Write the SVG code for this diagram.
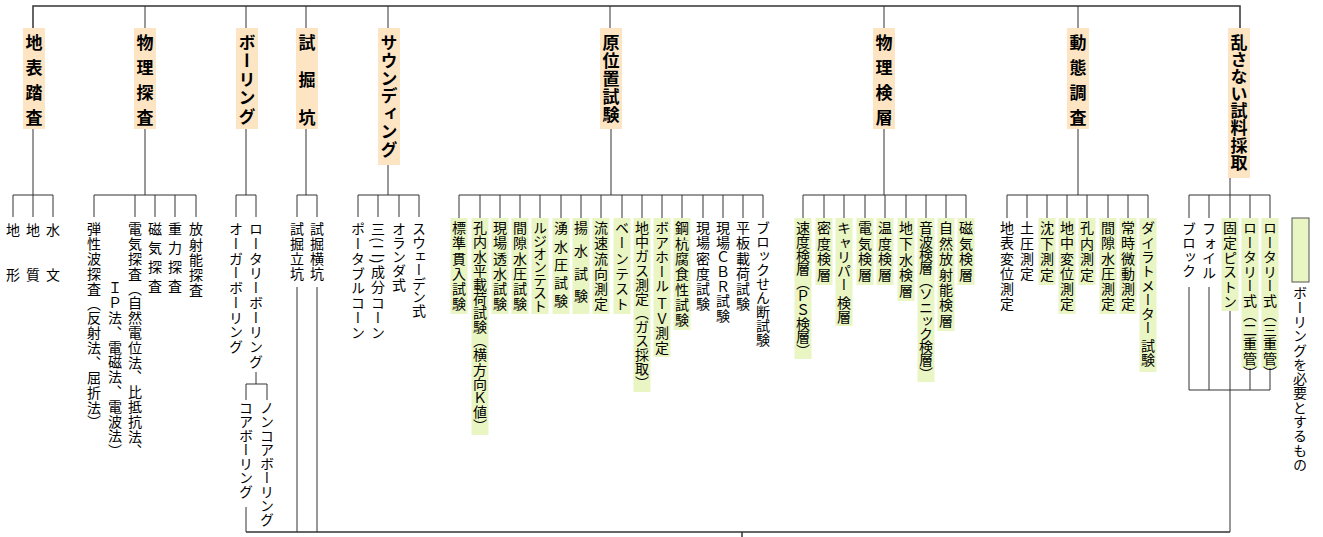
<svg xmlns="http://www.w3.org/2000/svg" width="1323" height="537" viewBox="0 0 1323 537">
<style>
.c{font-family:"Noto Sans CJK JP","Noto Sans CJK SC",sans-serif;font-size:17px;font-weight:bold;writing-mode:vertical-rl;fill:#000}
.t{font-family:"Noto Sans CJK JP","Noto Sans CJK SC",sans-serif;font-size:14px;writing-mode:vertical-rl;fill:#000}
.pk{fill:#FDE5C4}
.gr{fill:#E9F5C2}
.ln{stroke:#333;stroke-width:1;fill:none}
.lb{stroke:#333;stroke-width:1.5;fill:none}
</style>
<rect width="1323" height="537" fill="#fff"/>
<g id="connectors">
<path class="lb" d="M33,28V6H1240V28"/>
<path class="ln" d="M145,6V28M246,6V28M306,6V28M388,6V28M610,6V28M884,6V28M1078,6V28"/>
<path class="ln" d="M33,129V195M13,217V195H53V217M33,195V217"/>
<path class="ln" d="M145,129V195M94,217V195H196V217M135,195V217M155,195V217M175,195V217"/>
<path class="ln" d="M246,129V195M236,217V195H256V217M256,372V384M246,400V384H267V400M246,507V532"/>
<path class="ln" d="M306,129V195M297,217V195H317V217M297,287V532M317,287V532"/>
<path class="ln" d="M388,165V195M358,217V195H419V217M378,195V217M399,195V217"/>
<path class="ln" d="M611,129V195M459,218V195H763V218M480,195V218M500,195V218M520,195V218M540,195V218M561,195V218M581,195V218M601,195V218M622,195V218M642,195V218M662,195V218M682,195V218M703,195V218M723,195V218M743,195V218"/>
<path class="ln" d="M884,129V195M803,218V195H966V218M824,195V218M844,195V218M865,195V218M885,195V218M906,195V218M926,195V218M946,195V218"/>
<path class="ln" d="M1078,129V195M1007,218V195H1148V218M1027,195V218M1047,195V218M1067,195V218M1087,195V218M1108,195V218M1128,195V218"/>
<path class="ln" d="M1230,178V218M1189,218V195H1270V218M1209,195V218M1250,195V218M1189,287V390M1209,287V390M1250,368V390M1270,368V390M1189,390H1270M1230,311V532"/>
<path class="lb" d="M246,532H1230M742,532V537"/>
</g>
<g id="cat-chihyo"><rect class="pk" x="23" y="28" width="22" height="101"/><text class="c" x="34" y="34" letter-spacing="8">地表踏査</text></g>
<g id="cat-butsuri"><rect class="pk" x="134" y="28" width="22" height="101"/><text class="c" x="145" y="34" letter-spacing="8">物理探査</text></g>
<g id="cat-boring"><rect class="pk" x="236" y="28" width="22" height="101"/><text class="c" x="247" y="34" letter-spacing="1.4">ボーリング</text></g>
<g id="cat-shikutsu"><rect class="pk" x="296" y="28" width="22" height="101"/><text class="c" x="307" y="34" letter-spacing="20.5">試掘坑</text></g>
<g id="cat-sounding"><rect class="pk" x="378" y="28" width="22" height="137"/><text class="c" x="389" y="34" letter-spacing="0.8">サウンディング</text></g>
<g id="cat-genichi"><rect class="pk" x="600" y="28" width="22" height="101"/><text class="c" x="611" y="34" letter-spacing="1">原位置試験</text></g>
<g id="cat-kenso"><rect class="pk" x="873" y="28" width="22" height="101"/><text class="c" x="884" y="34" letter-spacing="8">物理検層</text></g>
<g id="cat-dotai"><rect class="pk" x="1067" y="28" width="22" height="101"/><text class="c" x="1078" y="34" letter-spacing="8">動態調査</text></g>
<g id="cat-sampling"><rect class="pk" x="1228" y="28" width="22" height="150"/><text class="c" x="1239" y="34" letter-spacing="0.1">乱さない試料採取</text></g>
<g id="n-chikei"><text class="t" x="13" y="223" letter-spacing="31">地形</text></g>
<g id="n-chishitsu"><text class="t" x="33" y="223" letter-spacing="31">地質</text></g>
<g id="n-suimon"><text class="t" x="53" y="223" letter-spacing="31">水文</text></g>
<g id="n-danseiha"><text class="t" x="94" y="222" letter-spacing="0.85">弾性波探査（反射法、屈折法）</text></g>
<g id="n-denki"><text class="t" x="135" y="222" letter-spacing="0.8">電気探査（自然電位法、比抵抗法、</text><text class="t" x="115" y="281" letter-spacing="0.8">ＩＰ法、電磁法、電波法）</text></g>
<g id="n-jiki"><text class="t" x="155" y="222" letter-spacing="5">磁気探査</text></g>
<g id="n-juryoku"><text class="t" x="175" y="222" letter-spacing="5">重力探査</text></g>
<g id="n-hoshano"><text class="t" x="196" y="222" letter-spacing="1.2">放射能探査</text></g>
<g id="n-auger"><text class="t" x="236" y="222" letter-spacing="0.7">オーガーボーリング</text></g>
<g id="n-rotary"><text class="t" x="256" y="222" letter-spacing="0.7">ロータリーボーリング</text></g>
<g id="n-core"><text class="t" x="246" y="401" letter-spacing="0">コアボーリング</text></g>
<g id="n-noncore"><text class="t" x="267" y="401" letter-spacing="0">ノンコアボーリング</text></g>
<g id="n-tatekou"><text class="t" x="297" y="222" letter-spacing="1">試掘立坑</text></g>
<g id="n-yokokou"><text class="t" x="317" y="222" letter-spacing="1">試掘横坑</text></g>
<g id="n-portable"><text class="t" x="358" y="222" letter-spacing="0.75">ポータブルコーン</text></g>
<g id="n-sanseibun"><text class="t" x="378" y="222" letter-spacing="1.3">三(二)成分コーン</text></g>
<g id="n-oranda"><text class="t" x="399" y="222" letter-spacing="0">オランダ式</text></g>
<g id="n-sweden"><text class="t" x="419" y="222" letter-spacing="-0.4">スウェーデン式</text></g>
<g id="n-spt"><rect class="gr" x="450.5" y="218" width="17" height="96"/><text class="t" x="459" y="221" letter-spacing="1.17">標準貫入試験</text></g>
<g id="n-lateral"><rect class="gr" x="471.5" y="218" width="17" height="217"/><text class="t" x="480" y="221" letter-spacing="0.13">孔内水平載荷試験（横方向Ｋ値）</text></g>
<g id="n-perm"><rect class="gr" x="491.5" y="218" width="17" height="96"/><text class="t" x="500" y="221" letter-spacing="1.17">現場透水試験</text></g>
<g id="n-pore"><rect class="gr" x="511.5" y="218" width="17" height="96"/><text class="t" x="520" y="221" letter-spacing="1.17">間隙水圧試験</text></g>
<g id="n-lugeon"><rect class="gr" x="531.5" y="218" width="17" height="96"/><text class="t" x="540" y="221" letter-spacing="-1">ルジオンテスト</text></g>
<g id="n-yusui"><rect class="gr" x="552.5" y="218" width="17" height="96"/><text class="t" x="561" y="221" letter-spacing="4.2">湧水圧試験</text></g>
<g id="n-yosui"><rect class="gr" x="572.5" y="218" width="17" height="96"/><text class="t" x="581" y="221" letter-spacing="8.7">揚水試験</text></g>
<g id="n-ryusoku"><rect class="gr" x="592.5" y="218" width="17" height="96"/><text class="t" x="601" y="221" letter-spacing="1.17">流速流向測定</text></g>
<g id="n-vane"><rect class="gr" x="613.5" y="218" width="17" height="96"/><text class="t" x="622" y="221" letter-spacing="1.17">ベーンテスト</text></g>
<g id="n-gas"><rect class="gr" x="633.5" y="218" width="17" height="174"/><text class="t" x="642" y="221" letter-spacing="0.08">地中ガス測定（ガス採取）</text></g>
<g id="n-tv"><rect class="gr" x="653.5" y="218" width="17" height="139"/><text class="t" x="662" y="221" letter-spacing="0.5">ボアホール ＴＶ測定</text></g>
<g id="n-kokui"><rect class="gr" x="673.5" y="218" width="17" height="112"/><text class="t" x="682" y="221" letter-spacing="1.3">鋼杭腐食性試験</text></g>
<g id="n-mitsudo"><text class="t" x="703" y="221" letter-spacing="1.17">現場密度試験</text></g>
<g id="n-cbr"><text class="t" x="723" y="221" letter-spacing="0.6">現場ＣＢＲ試験</text></g>
<g id="n-heiban"><text class="t" x="743" y="221" letter-spacing="1.17">平板載荷試験</text></g>
<g id="n-block"><text class="t" x="763" y="221" letter-spacing="0">ブロックせん断試験</text></g>
<g id="n-sokudo"><rect class="gr" x="794.5" y="218" width="17" height="141"/><text class="t" x="803" y="221" letter-spacing="-0.4">速度検層（ＰＳ検層）</text></g>
<g id="n-mitsudokenso"><rect class="gr" x="815.5" y="218" width="17" height="67"/><text class="t" x="824" y="221" letter-spacing="1.5">密度検層</text></g>
<g id="n-caliper"><rect class="gr" x="835.5" y="218" width="17" height="108"/><text class="t" x="844" y="221" letter-spacing="0.2">キャリパー 検層</text></g>
<g id="n-denkikenso"><rect class="gr" x="856.5" y="218" width="17" height="67"/><text class="t" x="865" y="221" letter-spacing="1.5">電気検層</text></g>
<g id="n-ondo"><rect class="gr" x="876.5" y="218" width="17" height="67"/><text class="t" x="885" y="221" letter-spacing="1.5">温度検層</text></g>
<g id="n-chikasui"><rect class="gr" x="897.5" y="218" width="17" height="83"/><text class="t" x="906" y="221" letter-spacing="1.6">地下水検層</text></g>
<g id="n-onpa"><rect class="gr" x="917.5" y="218" width="17" height="164"/><text class="t" x="926" y="221" letter-spacing="-0.8">音波検層（ソニック検層）</text></g>
<g id="n-shizen"><rect class="gr" x="937.5" y="218" width="17" height="113"/><text class="t" x="946" y="221" letter-spacing="1.4">自然放射能検層</text></g>
<g id="n-jikikenso"><rect class="gr" x="957.5" y="218" width="17" height="67"/><text class="t" x="966" y="221" letter-spacing="1.5">磁気検層</text></g>
<g id="n-chihyohen"><text class="t" x="1007" y="221" letter-spacing="1.1">地表変位測定</text></g>
<g id="n-doatsu"><text class="t" x="1027" y="221" letter-spacing="1.2">土圧測定</text></g>
<g id="n-chinka"><rect class="gr" x="1038.5" y="218" width="17" height="67"/><text class="t" x="1047" y="221" letter-spacing="1.5">沈下測定</text></g>
<g id="n-chichu"><rect class="gr" x="1058.5" y="218" width="17" height="96"/><text class="t" x="1067" y="221" letter-spacing="1.17">地中変位測定</text></g>
<g id="n-konai"><rect class="gr" x="1078.5" y="218" width="17" height="67"/><text class="t" x="1087" y="221" letter-spacing="1.5">孔内測定</text></g>
<g id="n-kangeki"><rect class="gr" x="1099.5" y="218" width="17" height="96"/><text class="t" x="1108" y="221" letter-spacing="1.17">間隙水圧測定</text></g>
<g id="n-joji"><rect class="gr" x="1119.5" y="218" width="17" height="96"/><text class="t" x="1128" y="221" letter-spacing="1.17">常時微動測定</text></g>
<g id="n-dila"><rect class="gr" x="1139.5" y="218" width="17" height="154"/><text class="t" x="1148" y="221" letter-spacing="0.3">ダイラトメーター 試験</text></g>
<g id="n-blocksample"><text class="t" x="1189" y="222" letter-spacing="0">ブロック</text></g>
<g id="n-foil"><text class="t" x="1209" y="222" letter-spacing="0.5">フォイル</text></g>
<g id="n-piston"><rect class="gr" x="1221.5" y="218" width="17" height="93"/><text class="t" x="1230" y="221" letter-spacing="0.7">固定ピストン</text></g>
<g id="n-double"><rect class="gr" x="1241.5" y="218" width="17" height="150"/><text class="t" x="1250" y="221" letter-spacing="0.5">ロータリー式（二重管）</text></g>
<g id="n-triple"><rect class="gr" x="1261.5" y="218" width="17" height="150"/><text class="t" x="1270" y="221" letter-spacing="0.5">ロータリー式（三重管）</text></g>
<g id="legend"><rect class="gr" x="1292" y="218" width="17" height="64" stroke="#555" stroke-width="1"/><text class="t" x="1300" y="286" letter-spacing="0.3">ボーリングを必要とするもの</text></g>
</svg>
